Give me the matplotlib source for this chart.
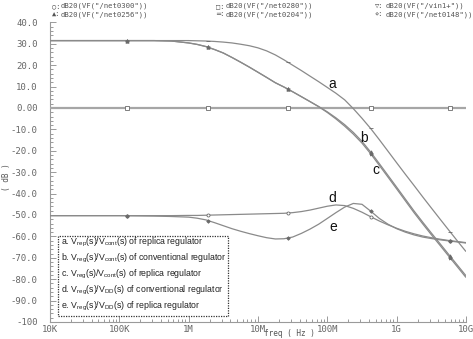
import numpy as np
import matplotlib
matplotlib.use("Agg")
import matplotlib.pyplot as plt
from matplotlib.ticker import MultipleLocator, LogLocator, NullFormatter
from matplotlib.patches import Rectangle

# ---------------- data ----------------
freq_hz = [1e4, 1.78e4, 3.16e4, 5.62e4, 1e5, 1.78e5, 3.16e5, 5.62e5,
           1e6, 1.33e6, 1.78e6, 2.37e6, 3.16e6, 4.22e6, 5.62e6, 7.50e6,
           1e7, 1.33e7, 1.78e7, 2.37e7, 3.16e7, 4.22e7, 5.62e7, 7.50e7,
           1e8, 1.33e8, 1.78e8, 2.37e8, 3.16e8, 4.22e8, 5.62e8, 7.50e8,
           1e9, 1.33e9, 1.78e9, 2.37e9, 3.16e9, 4.22e9, 5.62e9, 7.50e9, 1e10]

curve_a = [31.5, 31.5, 31.5, 31.5, 31.5, 31.5, 31.5, 31.5,
           31.5, 31.4, 31.3, 31.1, 30.8, 30.4, 29.8, 29.1,
           28.1, 26.7, 24.8, 22.5, 20.0, 17.5, 14.9, 12.3,
           9.6, 6.9, 3.8, -0.3, -4.8, -9.6, -14.8, -20.2,
           -25.6, -30.9, -36.2, -41.5, -46.7, -51.9, -57.0, -62.1, -67.1]

curve_b = [31.5, 31.5, 31.5, 31.5, 31.5, 31.5, 31.5, 31.3,
           30.4, 29.7, 28.7, 27.3, 25.7, 23.6, 21.4, 19.1,
           16.7, 14.3, 11.8, 9.8, 7.6, 5.3, 3.0, 0.7,
           -1.8, -4.6, -7.8, -11.4, -15.6, -20.6, -26.0, -31.5,
           -37.0, -42.5, -48.1, -53.3, -58.4, -63.4, -68.4, -73.4, -78.4]

curve_c = [31.5, 31.5, 31.5, 31.5, 31.5, 31.5, 31.5, 31.3,
           30.4, 29.7, 28.7, 27.3, 25.7, 23.6, 21.4, 19.1,
           16.7, 14.3, 11.8, 9.8, 7.6, 5.3, 3.0, 0.6,
           -2.1, -5.1, -8.5, -12.2, -16.4, -21.4, -26.8, -32.3,
           -37.8, -43.3, -48.9, -54.1, -59.2, -64.2, -69.2, -74.2, -79.2]

curve_d = [-50.3, -50.3, -50.3, -50.3, -50.3, -50.3, -50.3, -50.3,
           -50.2, -50.2, -50.1, -50.0, -49.9, -49.8, -49.7, -49.6,
           -49.5, -49.4, -49.3, -49.2, -48.9, -48.4, -47.7, -46.8,
           -45.9, -45.3, -45.6, -46.9, -48.7, -50.8, -52.8, -54.6,
           -56.2, -57.6, -58.8, -59.8, -60.6, -61.3, -61.9, -62.4, -62.9]

curve_e = [-50.3, -50.3, -50.3, -50.3, -50.3, -50.4, -50.5, -50.7,
           -51.0, -51.5, -52.3, -53.6, -55.0, -56.4, -57.6, -58.7,
           -59.7, -60.6, -61.2, -61.1, -60.3, -58.6, -56.6, -54.3,
           -51.6, -48.9, -46.3, -44.6, -45.0, -48.2, -51.6, -54.3,
           -56.4, -58.0, -59.3, -60.3, -61.0, -61.6, -62.1, -62.6, -63.1]

ref_freq = [1e4, 1e10]
ref_db = [0.0, 0.0]

marker_freqs = [1.3e5, 1.9e6, 2.7e7, 4.2e8, 5.9e9]

x_ticks = [1e4, 1e5, 1e6, 1e7, 1e8, 1e9, 1e10]
x_tick_labels = ["10K", "100K", "1M", "10M", "100M", "1G", "10G"]
y_ticks = [-100, -90, -80, -70, -60, -50, -40, -30, -20, -10, 0, 10, 20, 30, 40]
y_tick_labels = ["-100", "-90.0", "-80.0", "-70.0", "-60.0", "-50.0", "-40.0",
                 "-30.0", "-20.0", "-10.0", "0.00", "10.0", "20.0", "30.0", "40.0"]

header_items = [("○:", 'dB20(VF("/net0300"))'), ("▲:", 'dB20(VF("/net0256"))'),
                ("□:", 'dB20(VF("/net0280"))'), ("═:", 'dB20(VF("/net0204"))'),
                ("▽:", 'dB20(VF("/vin1+"))'), ("⋄:", 'dB20(VF("/net0148"))')]

legend_lines = [r"a. $\mathregular{V_{rep}(s)/V_{cont}(s)}$ of replica regulator",
                r"b. $\mathregular{V_{reg}(s)/V_{cont}(s)}$ of conventional regulator",
                r"c. $\mathregular{V_{reg}(s)/V_{cont}(s)}$ of replica regulator",
                r"d. $\mathregular{V_{reg}(s)/V_{DD}(s)}$ of conventional regulator",
                r"e. $\mathregular{V_{reg}(s)/V_{DD}(s)}$ of replica regulator"]

# ---------------- figure ----------------
W, H = 473, 339
fig = plt.figure(figsize=(W / 100, H / 100), dpi=100)
fig.patch.set_facecolor("white")

def fx(px):
    return px / W

def fy(py):
    return 1 - py / H

ax = fig.add_axes([fx(50), fy(322), fx(466) - fx(50), fy(22.4) - fy(322)])
ax.set_xscale("log")
ax.set_xlim(1e4, 1e10)
ax.set_ylim(-100, 40)

line_col = "#8a8a8a"
mono = ["DejaVu Sans Mono", "DejaVu Sans"]

def draw(fr, vals, marker, lw=0.9, col=line_col, mfc=None, ms=2.4):
    ax.plot(fr, vals, color=col, lw=lw, solid_capstyle="butt", zorder=3)
    lf = np.log10(fr)
    mv = np.interp(np.log10(marker_freqs), lf, vals)
    ax.plot(marker_freqs, mv, linestyle="none", marker=marker, ms=ms,
            mec="#6a6a6a", mfc=mfc if mfc else "#6a6a6a", mew=0.6, zorder=4)

draw(ref_freq, ref_db, "s", lw=1.6, col="#a6a6a6", mfc="white", ms=2.2)
draw(freq_hz, curve_a, "_", ms=3.2)
draw(freq_hz, curve_b, "^", ms=2.4)
draw(freq_hz, curve_c, "*", ms=2.8)
draw(freq_hz, curve_d, "o", mfc="white", ms=2.2)
draw(freq_hz, curve_e, "D", ms=1.8)

# axes styling
for s in ["top", "right"]:
    ax.spines[s].set_visible(False)
for s in ["left", "bottom"]:
    ax.spines[s].set_color("#9a9a9a")
    ax.spines[s].set_linewidth(0.8)

ax.set_xticks(x_ticks, x_tick_labels)
ax.xaxis.set_minor_locator(LogLocator(base=10, subs=np.arange(2, 10), numticks=100))
ax.xaxis.set_minor_formatter(NullFormatter())
ax.set_yticks(y_ticks, y_tick_labels)
ax.yaxis.set_minor_locator(MultipleLocator(2))
ax.tick_params(which="both", direction="in", color="#9a9a9a", width=0.7)
ax.tick_params(which="major", length=4)
ax.tick_params(which="minor", length=2)
ax.tick_params(axis="y", which="major", pad=9)
ax.tick_params(axis="x", which="major", pad=2)
for lab in ax.get_xticklabels() + ax.get_yticklabels():
    lab.set_fontfamily(mono)
    lab.set_fontsize(6.5)
    lab.set_color("#666666")

# header legend (traces)
cols_sym = [52, 216, 375]
cols_txt = [61, 226, 386]
rows = [6, 14.5]
for i, (sym, txt) in enumerate(header_items):
    c = i // 2
    r = i % 2
    fig.text(fx(cols_sym[c]), fy(rows[r]), sym, fontsize=5.0, family=mono,
             color="#555555", va="center", ha="left")
    fig.text(fx(cols_txt[c]), fy(rows[r]), txt, fontsize=5.2, family=mono,
             color="#555555", va="center", ha="left")

# axis titles
fig.text(fx(7), fy(177), "( dB )", rotation=90, fontsize=5.5, family=mono,
         color="#555555", ha="center", va="center")
fig.text(fx(289), fy(338.5), "freq ( Hz )", fontsize=5.5, family=mono,
         color="#555555", ha="center", va="bottom")

# curve letters
letter_font = ["Liberation Sans", "DejaVu Sans"]
for s, f, v in [("a", 1.17e8, 11.2), ("b", 3.4e8, -14.0), ("c", 5.0e8, -28.8),
                ("d", 1.17e8, -42.0), ("e", 1.2e8, -55.5)]:
    ax.text(f, v, s, fontsize=10, family=letter_font, color="#111111",
            ha="center", va="center", zorder=5)

# description box
fig.patches.append(Rectangle((fx(57.7), fy(315.7)), fx(227.7) - fx(57.7),
                             fy(235.7) - fy(315.7), transform=fig.transFigure,
                             fill=False, edgecolor="#333333", linestyle=(0, (1, 1)),
                             linewidth=0.9))
for i, s in enumerate(legend_lines):
    fig.text(fx(60.5), fy(242.7 + 16 * i), s, fontsize=6.3, family=letter_font,
             color="#222222", ha="left", va="center")

fig.savefig("out.png", dpi=100, facecolor="white")
